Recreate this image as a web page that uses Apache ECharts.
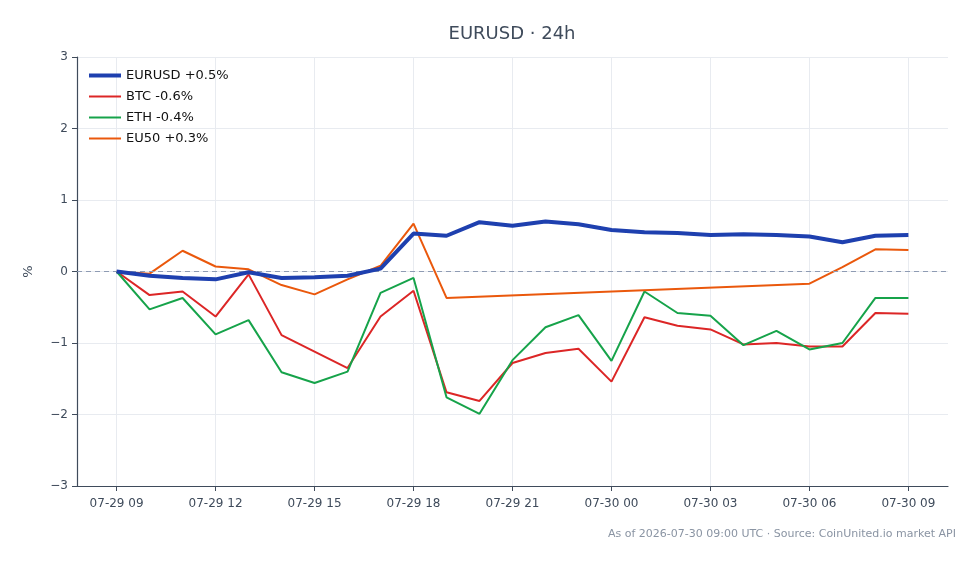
<!DOCTYPE html>
<html>
<head>
<meta charset="utf-8">
<script src="https://cdn.jsdelivr.net/npm/echarts@6/dist/echarts.min.js"></script>
<style>html,body{margin:0;padding:0;background:#fff}#c{width:980px;height:564px}</style>
</head>
<body>
<div id="c"></div>
<script>
// Hours since 2026-07-29 09:00 UTC
const hours = [0,1,2,3,4,5,6,7,8,9,10,11,12,13,14,15,16,17,18,19,20,21,22,23,24];
const tickHours = [0,3,6,9,12,15,18,21,24];
const tickLabels = ["07-29 09","07-29 12","07-29 15","07-29 18","07-29 21","07-30 00","07-30 03","07-30 06","07-30 09"];
const eurusd = [0,-0.06,-0.09,-0.11,-0.01,-0.09,-0.08,-0.06,0.04,0.53,0.50,0.69,0.64,0.70,0.66,0.58,0.55,0.54,0.51,0.52,0.51,0.49,0.41,0.50,0.51];
const btc = [0,-0.33,-0.28,-0.63,-0.04,-0.89,-1.12,-1.35,-0.63,-0.27,-1.69,-1.81,-1.28,-1.14,-1.08,-1.54,-0.64,-0.76,-0.81,-1.02,-1.00,-1.05,-1.05,-0.58,-0.59];
const eth = [0,-0.53,-0.37,-0.88,-0.68,-1.41,-1.56,-1.40,-0.30,-0.09,-1.76,-1.99,-1.24,-0.78,-0.61,-1.25,-0.28,-0.58,-0.62,-1.03,-0.83,-1.09,-1.00,-0.37,-0.37];
const eu50 = [0,-0.03,0.29,0.07,0.03,-0.19,-0.32,-0.11,0.08,0.67,-0.37,null,null,null,null,null,null,null,null,null,null,-0.17,0.06,0.31,0.30];
const names = ["EURUSD +0.5%","BTC -0.6%","ETH -0.4%","EU50 +0.3%"];
const colors = ["#1e40af","#dc2626","#16a34a","#ea580c"];
const widths = [4,2,2,2];

const pair = arr => hours.map((h,i)=>[h, arr[i]]);
const txt = "#3f4b5b";
const font = "DejaVu Sans";

const chart = echarts.init(document.getElementById('c'), null, {renderer:'canvas'});
chart.setOption({
  animation:false,
  backgroundColor:'#fff',
  textStyle:{fontFamily:font},
  title:{
    text:'EURUSD · 24h', left:507, top:20, textAlign:'center',
    textStyle:{fontFamily:font,fontSize:18,fontWeight:'normal',color:'#3f4b5b'}
  },
  graphic:[{
    type:'text', right:24, top:529,
    style:{text:'As of 2026-07-30 09:00 UTC · Source: CoinUnited.io market API', fontFamily:font, fontSize:11, fill:'#8a94a3'}
  }],
  legend:{
    orient:'vertical', left:82, top:64, itemWidth:32, itemHeight:10, itemGap:8,
    itemStyle:{opacity:0},
    textStyle:{fontFamily:font,fontSize:13,color:'#111111'},
    data:names.map((n,i)=>({name:n,lineStyle:{width:widths[i],color:colors[i]}}))
  },
  grid:{left:77,right:32,top:57,bottom:78},
  xAxis:{
    type:'value', min:-1.2, max:25.2,
    axisLine:{show:true,onZero:false,lineStyle:{color:'#3f4b5b',width:1.2}},
    axisTick:{show:true,length:5,lineStyle:{color:'#3f4b5b'},customValues:tickHours},
    axisLabel:{customValues:tickHours,color:txt,fontFamily:font,fontSize:12,margin:12,
      formatter:v=>tickLabels[tickHours.indexOf(Math.round(v))] || ''},
    splitLine:{show:true,lineStyle:{color:'#e8ebf0',width:1},customValues:tickHours}
  },
  yAxis:{
    type:'value', min:-3, max:3, interval:1,
    name:'%', nameLocation:'middle', nameGap:42, nameRotate:90,
    nameTextStyle:{color:txt,fontFamily:font,fontSize:13},
    axisLine:{show:true,onZero:false,lineStyle:{color:'#3f4b5b',width:1.2}},
    axisTick:{show:true,length:5,lineStyle:{color:'#3f4b5b'}},
    axisLabel:{color:txt,fontFamily:font,fontSize:12,margin:9,formatter:v=>v<0?'\u2212'+Math.abs(v):String(v)},
    splitLine:{show:true,lineStyle:{color:'#e8ebf0',width:1}}
  },
  series:[
    {name:names[0],type:'line',data:pair(eurusd),symbol:'none',z:5,
      lineStyle:{width:widths[0],color:colors[0]},itemStyle:{color:colors[0]},
      markLine:{silent:true,symbol:'none',label:{show:false},
        lineStyle:{type:[5,4],color:'#8e9bb3',width:1},data:[{yAxis:0}]}},
    {name:names[1],type:'line',data:pair(btc),symbol:'none',z:3,
      lineStyle:{width:widths[1],color:colors[1]},itemStyle:{color:colors[1]}},
    {name:names[2],type:'line',data:pair(eth),symbol:'none',z:3,
      lineStyle:{width:widths[2],color:colors[2]},itemStyle:{color:colors[2]}},
    {name:names[3],type:'line',data:pair(eu50),symbol:'none',connectNulls:true,z:4,
      lineStyle:{width:widths[3],color:colors[3]},itemStyle:{color:colors[3]}}
  ]
});
</script>
</body>
</html>
